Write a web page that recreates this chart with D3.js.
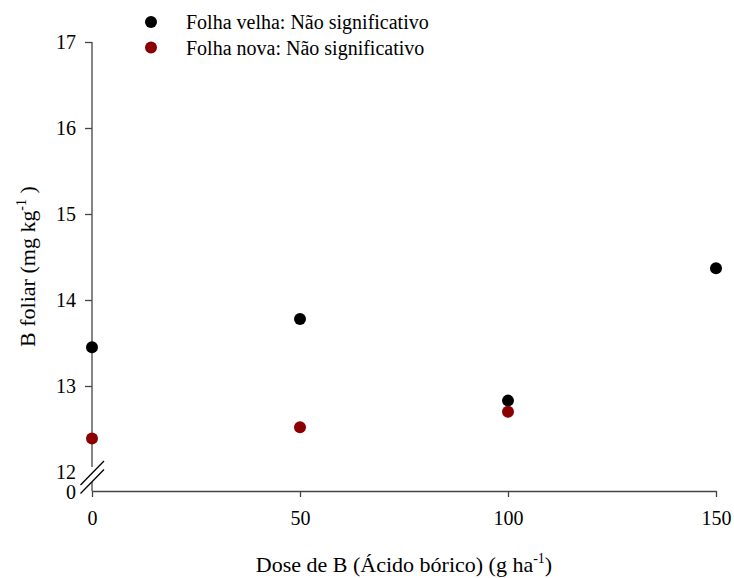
<!DOCTYPE html>
<html>
<head>
<meta charset="utf-8">
<script src="https://cdn.jsdelivr.net/npm/d3@7"></script>
</head>
<body style="margin:0;background:#fff">
<div id="chart"></div>
<script>
// doses (g/ha) and B foliar (mg/kg)
var doses = [0, 50, 100, 150];
var folhaVelha = [13.45, 13.78, 12.83, 14.37];
var folhaNova = [12.39, 12.52, 12.70];
var yTicks = [12, 13, 14, 15, 16, 17];
var xTicks = [0, 50, 100, 150];
var seriesNames = ["Folha velha: Não significativo", "Folha nova: Não significativo"];
var seriesColors = ["#000000", "#8b0000"];

var width = 734, height = 578;
var axisColor = "#444";
var fontFam = "Liberation Serif";

var svg = d3.select("#chart").append("svg")
  .attr("width", width)
  .attr("height", height)
  .attr("font-family", fontFam)
  .style("font-family", fontFam);

var x = d3.scaleLinear().domain([0, 150]).range([92, 716]);
var y = d3.scaleLinear().domain([12, 17]).range([472, 42]);
var yBase = 491; // x axis sits below the break, at "0"

// y axis (upper part, above the break)
var yAxis = svg.append("g")
  .attr("transform", "translate(" + x(0) + ",0)")
  .call(d3.axisLeft(y).tickValues(yTicks).tickSize(7).tickPadding(9).tickFormat(d3.format("d")));
yAxis.attr("font-family", fontFam);
yAxis.select(".domain").remove();
yAxis.selectAll("line").attr("stroke", axisColor).attr("stroke-width", 1.3);
yAxis.selectAll("text").style("font-size", "20px");
// 12 label sits just on the break, no tick there
yAxis.selectAll(".tick").filter(function(d){ return d === 12; }).select("line").remove();

svg.append("line")
  .attr("x1", x(0)).attr("x2", x(0))
  .attr("y1", y(17)).attr("y2", 467)
  .attr("stroke", axisColor).attr("stroke-width", 1.3);
svg.append("line")
  .attr("x1", x(0)).attr("x2", x(0))
  .attr("y1", 482).attr("y2", yBase)
  .attr("stroke", axisColor).attr("stroke-width", 1.3);

// "0" label at the base
svg.append("text")
  .attr("x", x(0) - 16).attr("y", yBase + 2)
  .attr("dy", "0.32em")
  .attr("text-anchor", "end")
  .style("font-size", "20px")
  .text("0");

// break marks
[0, 8.5].forEach(function(o){
  svg.append("line")
    .attr("x1", 80.5).attr("y1", 485 + o)
    .attr("x2", 104).attr("y2", 461 + o)
    .attr("stroke", "#000").attr("stroke-width", 1.3);
});

// x axis
var xAxis = svg.append("g")
  .attr("transform", "translate(0," + yBase + ")")
  .call(d3.axisBottom(x).tickValues(xTicks).tickSize(6).tickSizeOuter(0).tickPadding(14));
xAxis.attr("font-family", fontFam);
xAxis.select(".domain").attr("stroke", axisColor).attr("stroke-width", 1.3);
xAxis.selectAll("line").attr("stroke", axisColor).attr("stroke-width", 1.3);
xAxis.selectAll("text").style("font-size", "20px");

// axis titles
var xt = svg.append("text")
  .attr("x", (x(0) + x(150)) / 2).attr("y", 572)
  .attr("text-anchor", "middle")
  .style("font-size", "22px");
xt.append("tspan").text("Dose de B (Ácido bórico) (g ha");
xt.append("tspan").attr("dy", -9).style("font-size", "14px").text("-1");
xt.append("tspan").attr("dy", 9).text(")");

var yt = svg.append("text")
  .attr("transform", "translate(35," + ((y(17) + yBase) / 2) + ") rotate(-90)")
  .attr("text-anchor", "middle")
  .style("font-size", "22px");
yt.append("tspan").text("B foliar (mg kg");
yt.append("tspan").attr("dy", -9).style("font-size", "14px").text("-1");
yt.append("tspan").attr("dy", 9).text(" )");

// points
var velha = doses.map(function(d, i){ return {dose: d, value: folhaVelha[i]}; });
var nova = folhaNova.map(function(v, i){ return {dose: doses[i], value: v}; });

svg.selectAll("circle.velha")
  .data(velha)
  .enter().append("circle")
  .attr("class", "velha")
  .attr("cx", function(d){ return x(d.dose); })
  .attr("cy", function(d){ return y(d.value); })
  .attr("r", 6)
  .attr("fill", seriesColors[0]);

svg.selectAll("circle.nova")
  .data(nova)
  .enter().append("circle")
  .attr("class", "nova")
  .attr("cx", function(d){ return x(d.dose); })
  .attr("cy", function(d){ return y(d.value); })
  .attr("r", 6)
  .attr("fill", seriesColors[1]);

// legend
var legend = svg.selectAll("g.legend")
  .data(seriesNames)
  .enter().append("g")
  .attr("class", "legend")
  .attr("transform", function(d, i){ return "translate(151," + (22 + i * 25.5) + ")"; });
legend.append("circle")
  .attr("r", 6)
  .attr("fill", function(d, i){ return seriesColors[i]; });
legend.append("text")
  .attr("x", 35).attr("dy", "0.35em")
  .style("font-size", "20px")
  .text(function(d){ return d; });

svg.selectAll("text")
  .attr("fill", "#000")
  .style("font-family", fontFam);
</script>
</body>
</html>
